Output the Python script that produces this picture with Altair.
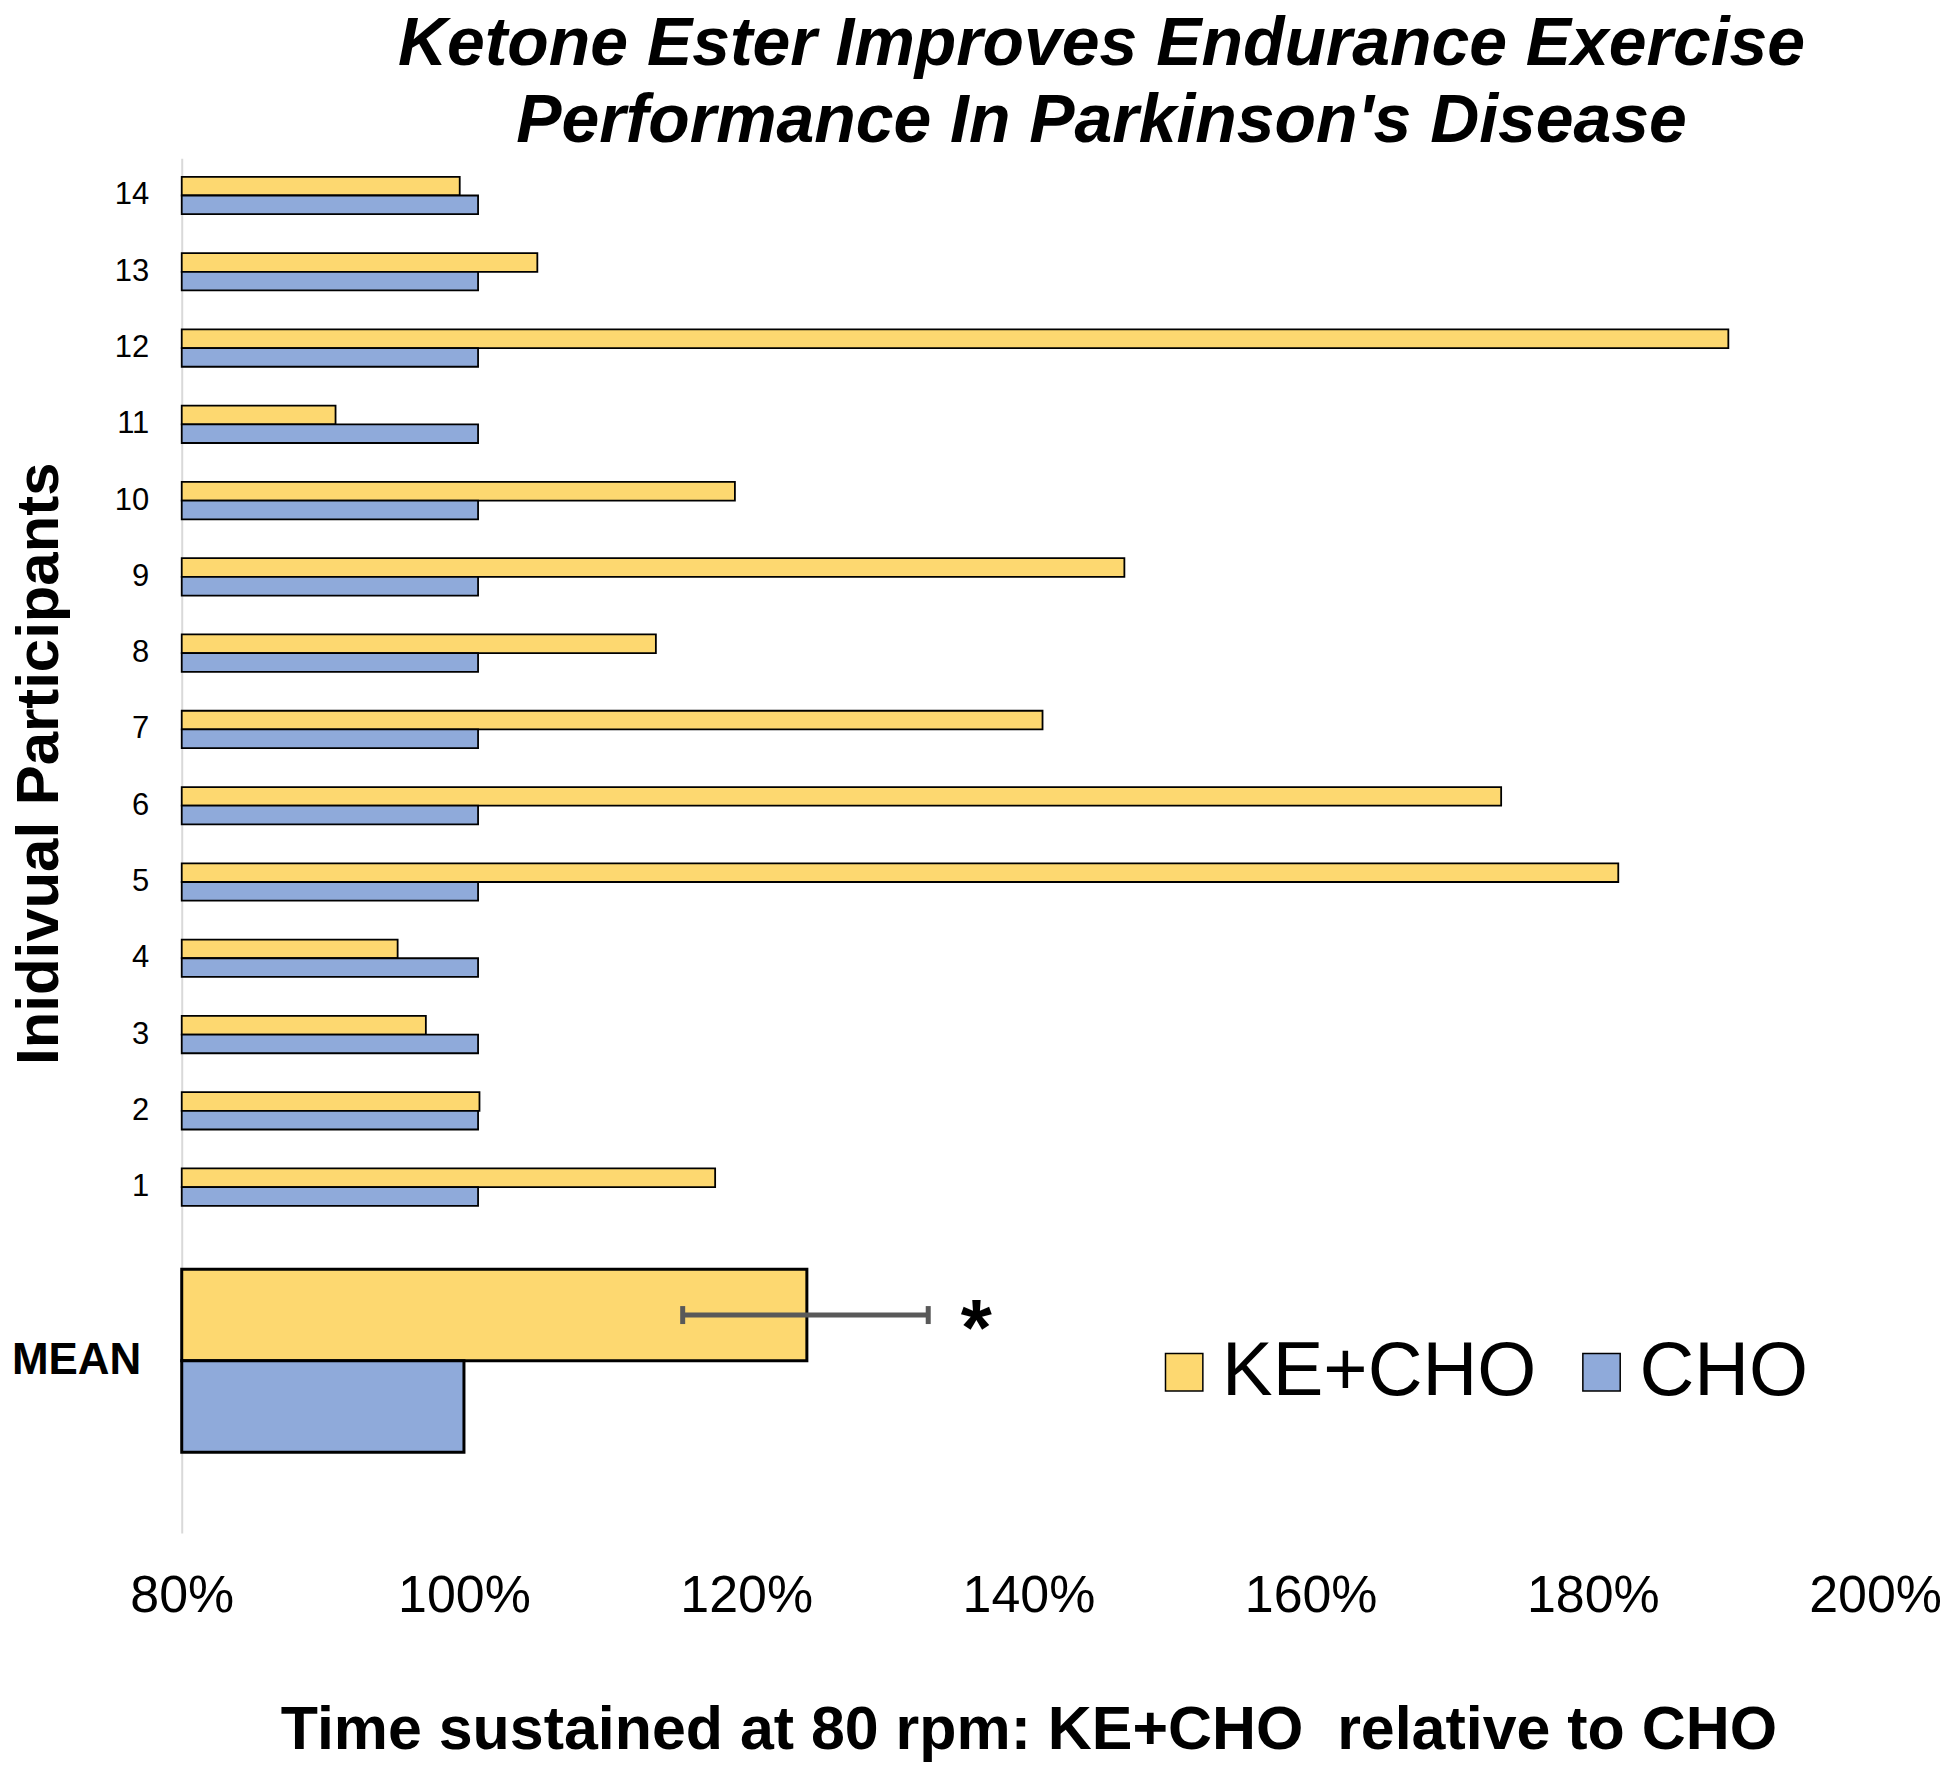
import altair as alt
import pandas as pd

FONT = "Liberation Sans"

participants = ["1", "2", "3", "4", "5", "6", "7", "8", "9", "10", "11", "12", "13", "14"]
ke_cho = [117.8, 101.1, 97.3, 95.3, 181.8, 173.5, 141.0, 113.6, 146.8, 119.2, 90.9, 189.6, 105.2, 99.7]
cho = [101.0, 101.0, 101.0, 101.0, 101.0, 101.0, 101.0, 101.0, 101.0, 101.0, 101.0, 101.0, 101.0, 101.0]

mean_label = "MEAN"
mean_ke_cho = 124.3
mean_cho = 100.0
err_low = 115.5
err_high = 132.9
star_x = 136.3

series = ["KE+CHO", "CHO"]
colors = ["#FDD870", "#8FAADA"]
x_ticks = [80, 100, 120, 140, 160, 180, 200]
x_domain = [80, 200]

title_lines = ["Ketone Ester Improves Endurance Exercise", "Performance In Parkinson's Disease"]
x_title = "Time sustained at 80 rpm: KE+CHO\u00a0 relative to CHO"
y_title = "Inidivual Participants"

rows = []
for p, k, c in zip(participants, ke_cho, cho):
    rows.append({"participant": p, "series": series[0], "value": k})
    rows.append({"participant": p, "series": series[1], "value": c})
df_ind = pd.DataFrame(rows)

df_mean = pd.DataFrame({
    "label": [mean_label, mean_label],
    "series": series,
    "value": [mean_ke_cho, mean_cho],
})
df_err = pd.DataFrame({"label": [mean_label], "series": [series[0]], "lo": [err_low], "hi": [err_high], "sx": [star_x]})
df_caps = pd.DataFrame({"label": [mean_label, mean_label], "series": [series[0], series[0]], "v": [err_low, err_high]})

xscale = alt.Scale(domain=x_domain, nice=False, zero=False)
off_scale = alt.Scale(domain=series, paddingInner=0, paddingOuter=0)

color = alt.Color(
    "series:N",
    scale=alt.Scale(domain=series, range=colors),
    legend=alt.Legend(
        title=None,
        orient="none",
        direction="horizontal",
        legendX=966,
        legendY=1178,
        symbolType="square",
        symbolSize=1400,
        symbolStrokeColor="black",
        symbolStrokeWidth=1.5,
        symbolOpacity=1,
        labelFontSize=76,
        labelFont=FONT,
        labelColor="black",
        labelOffset=0,
        labelLimit=0,
        columnPadding=27,
        padding=0,
    ),
)

no_border = alt.ViewBackground(stroke="transparent", strokeWidth=0)

top = alt.Chart(df_ind).mark_bar(stroke="black", strokeWidth=1.8).encode(
    x=alt.X("value:Q", scale=xscale, axis=None),
    x2=alt.datum(80),
    y=alt.Y(
        "participant:N",
        sort=participants[::-1],
        scale=alt.Scale(paddingInner=0.51, paddingOuter=0.245),
        axis=alt.Axis(
            title=y_title,
            titleFont=FONT,
            titleFontSize=60,
            titleFontWeight="bold",
            titleColor="black",
            titleX=-124,
            titleY=606,
            titleBaseline="alphabetic",
            titleAngle=270,
            labelFont=FONT,
            labelFontSize=31,
            labelColor="black",
            labelPadding=33,
            ticks=False,
            domainColor="#d9d9d9",
            domainWidth=2,
            grid=False,
        ),
    ),
    yOffset=alt.YOffset("series:N", scale=off_scale),
    color=color,
).properties(width=1696, height=1068, view=no_border)

ybot = alt.Y(
    "label:N",
    scale=alt.Scale(paddingInner=0, paddingOuter=0.344, align=0.357),
    axis=alt.Axis(
        title=None,
        labelFont=FONT,
        labelFontSize=44,
        labelFontWeight="bold",
        labelColor="black",
        labelPadding=41,
        ticks=False,
        domainColor="#d9d9d9",
        domainWidth=2,
        grid=False,
    ),
)

bars = alt.Chart(df_mean).mark_bar(stroke="black", strokeWidth=3).encode(
    x=alt.X(
        "value:Q",
        scale=xscale,
        axis=alt.Axis(
            values=x_ticks,
            labelExpr="datum.value + '%'",
            labelFont=FONT,
            labelFontSize=52,
            labelColor="black",
            labelPadding=38,
            labelFlush=False,
            ticks=False,
            domain=False,
            grid=False,
            title=x_title,
            titleFont=FONT,
            titleFontSize=61,
            titleFontWeight="bold",
            titleColor="black",
            titlePadding=79,
        ),
    ),
    x2=alt.datum(80),
    y=ybot,
    yOffset=alt.YOffset("series:N", scale=off_scale),
    color=color,
)

rule = alt.Chart(df_err).mark_rule(color="#595959", strokeWidth=5).encode(
    x=alt.X("lo:Q", scale=xscale),
    x2="hi:Q",
    y=ybot,
    yOffset=alt.YOffset("series:N", scale=off_scale),
)

caps = alt.Chart(df_caps).mark_tick(color="#595959", orient="vertical", thickness=5, size=18, opacity=1).encode(
    x=alt.X("v:Q", scale=xscale),
    y=ybot,
    yOffset=alt.YOffset("series:N", scale=off_scale),
)

star = alt.Chart(df_err).mark_text(
    text="*", font=FONT, fontSize=80, fontWeight="bold", color="black", baseline="alphabetic", dy=40
).encode(
    x=alt.X("sx:Q", scale=xscale),
    y=ybot,
    yOffset=alt.YOffset("series:N", scale=off_scale),
)

bottom = alt.layer(bars, rule, caps, star).properties(width=1696, height=309, view=no_border)

chart = alt.vconcat(top, bottom, spacing=0).resolve_scale(
    yOffset="independent"
).properties(
    title=alt.Title(
        title_lines,
        font=FONT,
        fontSize=68,
        fontStyle="italic",
        fontWeight="bold",
        color="black",
        lineHeight=77,
        anchor="middle",
        dx=126,
        offset=2,
    ),
    padding={"left": 2, "top": 2, "right": 0, "bottom": 0},
).configure_view(stroke="transparent", strokeWidth=0).configure(background="white")

chart.save("out.html", embed_options={"renderer": "svg", "actions": False})
